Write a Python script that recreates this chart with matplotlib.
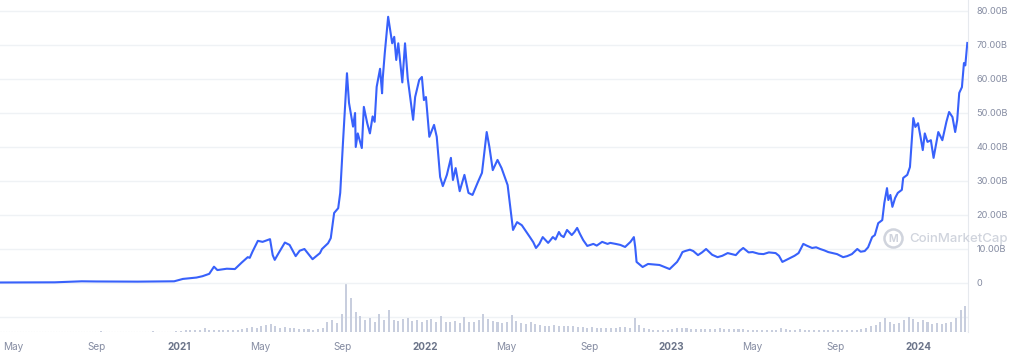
import numpy as np
import pandas as pd
import matplotlib
matplotlib.use("Agg")
from matplotlib import pyplot as plt
from matplotlib.lines import Line2D

# market cap (billions USD)
fechas = ["2020-04-11", "2020-07-01", "2020-08-10", "2020-09-01", "2020-11-01", "2020-12-25",
          "2021-01-07", "2021-01-27", "2021-02-05", "2021-02-15", "2021-02-22", "2021-02-27",
          "2021-03-13", "2021-03-25", "2021-04-04", "2021-04-13", "2021-04-16", "2021-04-20",
          "2021-04-28", "2021-05-05", "2021-05-16", "2021-05-20", "2021-05-23", "2021-05-27",
          "2021-06-07", "2021-06-14", "2021-06-23", "2021-06-29", "2021-07-06", "2021-07-18",
          "2021-07-29", "2021-08-01", "2021-08-10", "2021-08-14", "2021-08-19", "2021-08-25",
          "2021-08-28", "2021-09-01", "2021-09-07", "2021-09-10", "2021-09-16", "2021-09-19",
          "2021-09-20", "2021-09-23", "2021-09-29", "2021-10-02", "2021-10-07", "2021-10-11",
          "2021-10-15", "2021-10-18", "2021-10-21", "2021-10-26", "2021-10-29", "2021-10-30",
          "2021-11-02", "2021-11-07", "2021-11-13", "2021-11-16", "2021-11-19", "2021-11-22",
          "2021-11-28", "2021-12-02", "2021-12-06", "2021-12-14", "2021-12-17", "2021-12-23",
          "2021-12-27", "2021-12-30",
          "2022-01-02", "2022-01-07", "2022-01-14", "2022-01-18", "2022-01-23", "2022-01-27",
          "2022-02-02", "2022-02-08", "2022-02-11", "2022-02-15", "2022-02-21", "2022-02-28",
          "2022-03-06", "2022-03-12", "2022-03-20", "2022-03-26", "2022-04-02", "2022-04-06",
          "2022-04-11", "2022-04-18", "2022-04-24", "2022-05-03", "2022-05-11", "2022-05-17",
          "2022-05-24", "2022-06-01", "2022-06-05", "2022-06-10", "2022-06-14", "2022-06-19",
          "2022-06-24", "2022-07-02", "2022-07-05", "2022-07-09", "2022-07-13", "2022-07-18",
          "2022-07-21", "2022-07-25", "2022-07-30", "2022-08-06", "2022-08-10", "2022-08-14",
          "2022-08-18", "2022-08-23", "2022-08-29", "2022-09-07", "2022-09-12", "2022-09-20",
          "2022-09-28", "2022-10-02", "2022-10-10", "2022-10-17", "2022-10-24", "2022-11-01",
          "2022-11-06", "2022-11-08", "2022-11-10", "2022-11-19", "2022-11-27", "2022-12-14",
          "2022-12-29",
          "2023-01-09", "2023-01-13", "2023-01-17", "2023-01-21", "2023-01-28", "2023-02-02",
          "2023-02-09", "2023-02-15", "2023-02-21", "2023-03-02", "2023-03-10", "2023-03-17",
          "2023-03-25", "2023-04-06", "2023-04-12", "2023-04-17", "2023-04-25", "2023-05-01",
          "2023-05-10", "2023-05-17", "2023-05-25", "2023-06-04", "2023-06-09", "2023-06-14",
          "2023-06-26", "2023-07-02", "2023-07-08", "2023-07-15", "2023-07-20", "2023-07-28",
          "2023-08-03", "2023-08-09", "2023-08-15", "2023-08-21", "2023-09-03", "2023-09-12",
          "2023-09-18", "2023-09-25", "2023-10-03", "2023-10-08", "2023-10-14", "2023-10-19",
          "2023-10-25", "2023-10-29", "2023-11-03", "2023-11-09", "2023-11-12", "2023-11-16",
          "2023-11-18", "2023-11-21", "2023-11-24", "2023-11-28", "2023-12-02", "2023-12-08",
          "2023-12-10", "2023-12-16", "2023-12-20", "2023-12-25", "2023-12-28",
          "2024-01-01", "2024-01-05", "2024-01-08", "2024-01-11", "2024-01-15", "2024-01-20",
          "2024-01-24", "2024-01-31", "2024-02-06", "2024-02-12", "2024-02-16", "2024-02-21",
          "2024-02-25", "2024-02-28", "2024-03-02", "2024-03-06", "2024-03-09", "2024-03-11",
          "2024-03-14"]

capital = [0.15, 0.2, 0.5, 0.45, 0.4, 0.5,
           1.2, 1.6, 2.0, 2.7, 4.8, 3.8,
           4.2, 4.1, 6.0, 7.6, 7.4, 9.2,
           12.4, 12.1, 12.9, 8.2, 6.8, 8.2,
           11.9, 11.2, 7.9, 9.5, 10.0, 7.0,
           8.8, 10.0, 11.7, 13.2, 20.6, 22.0,
           26.5, 41.0, 61.7, 53.0, 46.0, 50.0,
           40.0, 44.0, 39.7, 51.8, 47.0, 44.0,
           49.0, 47.4, 57.7, 63.0, 55.8, 60.2,
           67.6, 78.3, 70.5, 72.4, 65.6, 70.5,
           59.0, 70.5, 60.2, 48.0, 54.7, 59.7,
           60.6, 53.8,
           54.7, 43.0, 46.5, 43.0, 31.2, 28.5,
           31.8, 36.8, 30.3, 33.8, 27.0, 31.8,
           26.5, 25.9, 29.7, 32.4, 44.4, 40.0,
           33.2, 36.2, 33.8, 28.8, 15.6, 17.9,
           17.0, 14.7, 13.5, 12.0, 10.3, 11.5,
           13.5, 11.8, 12.5, 13.5, 12.8, 15.0,
           14.0, 13.5, 15.6, 14.1, 15.0, 16.2,
           14.5, 12.6, 10.9, 11.5, 11.0, 12.1,
           11.5, 11.8, 11.5, 11.2, 10.6, 12.1,
           13.5, 10.6, 6.2, 4.7, 5.6, 5.3,
           4.1,
           6.2, 7.5, 9.1, 9.4, 9.8, 9.4,
           8.2, 9.0, 10.0, 8.3, 7.6, 8.0,
           8.8, 8.2, 9.5, 10.3, 9.0, 9.1,
           8.6, 8.5, 9.0, 8.8, 8.0, 6.2,
           7.4, 8.0, 8.8, 11.5, 11.0, 10.3,
           10.5, 10.0, 9.6, 9.1, 8.5, 7.6,
           7.9, 8.5, 10.0, 9.2, 9.4, 10.5,
           13.5, 14.1, 17.6, 18.5, 23.5, 27.9,
           24.4, 25.9, 22.4, 25.0, 26.5, 27.4,
           30.9, 31.8, 34.1, 48.5, 45.9,
           47.0, 42.6, 39.1, 44.0, 41.5, 42.0,
           36.8, 44.4, 42.0, 47.4, 50.3, 48.8,
           44.4, 47.9, 55.9, 57.6, 64.7, 64.0,
           70.6]

# weekly volume (billions), starting 2020-04-13
volumen = [0.05, 0.05, 0.05,
           0.05, 0.06, 0.05, 0.05,
           0.06, 0.05, 0.05, 0.06, 0.05,
           0.06, 0.07, 0.08, 0.07,
           0.1, 0.12, 0.1, 0.1, 0.12,
           0.15, 0.12, 0.1, 0.1,
           0.08, 0.08, 0.07, 0.08,
           0.1, 0.1, 0.12, 0.15, 0.12,
           0.1, 0.1, 0.12, 0.15,
           0.3, 0.5, 0.4, 0.4,
           0.6, 0.9, 0.5, 0.6,
           0.5, 0.6, 0.5, 0.6, 0.5,
           0.7, 0.9, 1.2, 1.0,
           1.5, 1.8, 2.0, 1.4, 1.1,
           1.2, 0.9, 1.1, 0.8,
           0.7, 0.8, 0.6, 0.8,
           1.0, 2.5, 3.0, 2.2, 4.5,
           12.0, 8.5, 5.0, 4.0,
           3.0, 3.5, 2.5, 4.5,
           3.0, 5.5, 3.0, 2.8, 3.2,
           3.5, 2.8, 3.0, 2.5,
           3.0, 3.2, 2.5, 4.0, 2.6,
           2.5, 2.8, 2.2, 3.8,
           2.4, 2.6, 3.0, 4.5,
           3.2, 2.8, 2.5, 2.2,
           2.6, 4.2, 2.8, 2.2, 2.0,
           2.4, 2.0, 1.8, 1.6,
           1.6, 1.8, 1.5, 1.4,
           1.6, 1.5, 1.3, 1.2, 1.1,
           1.2, 1.0, 1.1, 0.9,
           0.9, 1.0, 1.2, 1.3, 1.1,
           3.6, 1.8, 1.0, 0.8,
           0.6, 0.5, 0.5, 0.5,
           0.8, 1.1, 1.0, 0.9, 0.8,
           0.8, 0.8, 0.7, 0.7,
           0.8, 0.9, 0.7, 0.7,
           0.8, 0.7, 0.7, 0.6,
           0.6, 0.5, 0.5, 0.5, 0.5,
           0.6, 0.9, 0.7, 0.6,
           0.6, 0.8, 0.6, 0.5, 0.5,
           0.5, 0.6, 0.5, 0.5,
           0.4, 0.4, 0.5, 0.5,
           0.5, 0.7, 0.9, 1.4, 1.8,
           2.6, 3.6, 2.4, 2.0,
           2.2, 3.0, 3.8, 3.2,
           2.6, 3.0, 2.4, 2.0, 2.2,
           2.0, 2.2, 2.6, 3.4,
           5.5, 6.5]

marcas_y = [0, 10, 20, 30, 40, 50, 60, 70, 80]
etiquetas_y = ["0", "10.00B", "20.00B", "30.00B", "40.00B", "50.00B", "60.00B", "70.00B", "80.00B"]
marcas_x = ["2020-05-01", "2020-09-01", "2021-01-01", "2021-05-01", "2021-09-01", "2022-01-01",
            "2022-05-01", "2022-09-01", "2023-01-01", "2023-05-01", "2023-09-01", "2024-01-01"]
etiquetas_x = ["May", "Sep", "2021", "May", "Sep", "2022", "May", "Sep", "2023", "May", "Sep", "2024"]

azul = "#3861fb"
gris = "#858ca2"
linea_grid = "#eff2f5"
marca_agua = "#d0d4dd"

plt.rcParams['font.family'] = ['Inter', 'DejaVu Sans']

W, H = 1018, 356
fig = plt.figure(figsize=(W / 100, H / 100), dpi=100)
fig.patch.set_facecolor("white")

ax = fig.add_axes([0, 24 / H, 968 / W, 332 / H])
axv = fig.add_axes([0, 24 / H, 968 / W, 49 / H], sharex=ax)
ax.set_zorder(axv.get_zorder() + 1)
ax.patch.set_visible(False)

x = pd.to_datetime(fechas)
xv = pd.date_range("2020-04-13", periods=len(volumen), freq="7D")

# volumen
axv.bar(xv, volumen, width=3.0, color="#c8cede", linewidth=0)
axv.axhline(3.7, color=linea_grid, lw=1, zorder=0)
axv.axhline(0, color="#c4c9d4", lw=0.8, ls=(0, (1, 1.5)))
axv.set_ylim(0, 12.2)
axv.set_yticks([])
for s in axv.spines.values():
    s.set_visible(False)
axv.tick_params(axis="x", length=0, pad=7)

# linea principal
ax.plot(x, capital, color=azul, lw=1.5, solid_joinstyle="round")
ax.set_ylim(-(332 - 283) / 3.4, 283 / 3.4)
ax.set_xlim(pd.Timestamp("2020-04-11"), pd.Timestamp("2024-03-15"))
ax.yaxis.tick_right()
ax.set_yticks(marcas_y)
ax.set_yticklabels(etiquetas_y)
ax.tick_params(axis="y", length=0, pad=6, labelsize=6.6, labelcolor=gris)
for v in marcas_y:
    ax.axhline(v, color=linea_grid, lw=1, zorder=0)
for k, s in ax.spines.items():
    s.set_visible(k == "right")
ax.spines["right"].set_color("#e6e9ee")
ax.tick_params(axis="x", which="both", bottom=False, labelbottom=False)

axv.set_xticks(pd.to_datetime(marcas_x))
axv.set_xticklabels(etiquetas_x)
for t in axv.get_xticklabels():
    if t.get_text().isdigit():
        t.set_fontweight("bold")
        t.set_color("#6b7489")
    else:
        t.set_color(gris)
    t.set_fontsize(7.2)

# marca de agua
cx, cy = 893 / W, 1 - 238 / H
fig.add_artist(Line2D([cx], [cy], transform=fig.transFigure, marker="o", markersize=13,
                      markerfacecolor="none", markeredgecolor=marca_agua, markeredgewidth=1.8))
fig.text(cx, cy - 0.004, "M", ha="center", va="center", fontsize=7.5,
         color=marca_agua, fontweight="bold")
fig.text(909 / W, 1 - 239 / H, "CoinMarketCap", ha="left", va="center", fontsize=9.5,
         color=marca_agua, fontweight="medium")

fig.savefig("out.png", dpi=100, facecolor="white")
